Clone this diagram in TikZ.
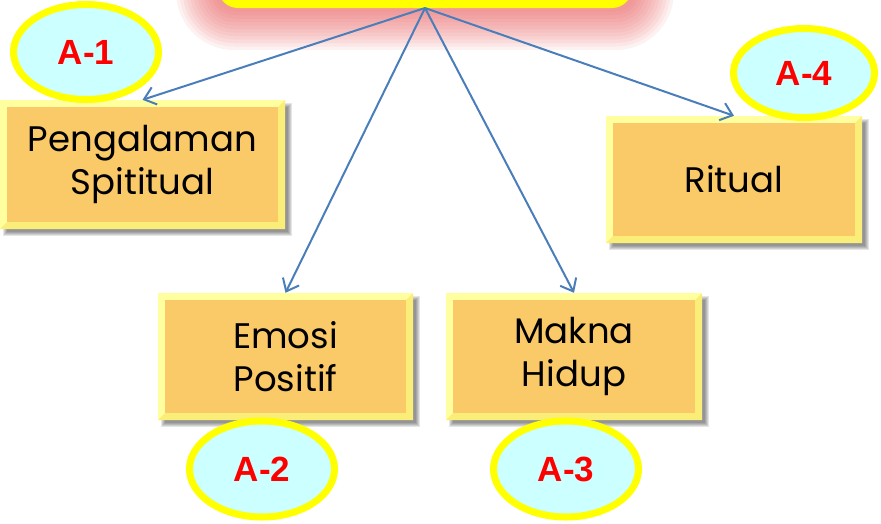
\documentclass[tikz,border=0pt]{standalone}
\usepackage{fontspec}
\newfontfamily\boxfont{Poppins}
\newfontfamily\tagfont{Liberation Sans}
\usetikzlibrary{shapes.geometric,arrows.meta,backgrounds,calc}

\definecolor{bevlight}{RGB}{255,255,160}
\definecolor{bevdark}{RGB}{250,238,120}
\definecolor{boxorange}{RGB}{251,202,104}
\definecolor{tagcyan}{RGB}{204,255,255}
\definecolor{tagring}{RGB}{255,255,0}
\definecolor{tagred}{RGB}{255,0,0}
\definecolor{linkblue}{RGB}{74,126,187}
\definecolor{glowred}{RGB}{232,90,90}

\tikzset{
  headbox/.style={rectangle, rounded corners=16pt, draw=tagring, line width=8pt,
    fill=tagcyan, minimum width=406pt, minimum height=94pt, inner sep=0pt},
  bevelbox/.style={rectangle, fill=bevlight, inner sep=0pt, align=center,
    font=\boxfont\fontsize{35.5}{43}\selectfont,
    path picture={
      \fill[bevdark] (path picture bounding box.south west)
        -- (path picture bounding box.south east)
        -- (path picture bounding box.north east)
        -- ([shift={(-7pt,-7pt)}]path picture bounding box.north east)
        -- ([shift={(-7pt,7pt)}]path picture bounding box.south east)
        -- ([shift={(7pt,7pt)}]path picture bounding box.south west) -- cycle;
      \fill[boxorange] ([shift={(7pt,7pt)}]path picture bounding box.south west)
        rectangle ([shift={(-7pt,-7pt)}]path picture bounding box.north east);
    }},
  tag/.style={ellipse, draw=tagring, line width=7pt, fill=tagcyan, inner sep=0pt,
    font=\tagfont\bfseries\fontsize{35}{38}\selectfont, text=tagred},
  link/.style={draw=linkblue, line width=2pt,
    -{Straight Barb[length=11pt,width=18pt,line width=2pt]}},
}

\begin{document}
\begin{tikzpicture}[x=1pt,y=-1pt]
\useasboundingbox (0,0) rectangle (881,523);

% header box, mostly above the visible area
\node[headbox] (head) at (425,-43) {};

% the four concept boxes
\node[bevelbox, minimum width=285pt, minimum height=129pt] (b1) at (142.5,164.5)
  {Pengalaman\\Spititual};
\node[bevelbox, minimum width=255pt, minimum height=127pt] (b2) at (285.5,356.5)
  {Emosi\\Positif};
\node[bevelbox, minimum width=256pt, minimum height=127pt] (b3) at (574,356.5)
  {Makna\\Hidup};
\node[bevelbox, minimum width=256pt, minimum height=127pt] (b4) at (734,179.5)
  {Ritual};

% soft glow round the header, soft shadows under the boxes
\begin{pgfonlayer}{background}
  \foreach \i in {1,...,12}{
    \fill[glowred, opacity=0.08, rounded corners={16+3.5*\i}]
      ($(head.south west)+(-3.5*\i,3.5*\i)$) rectangle ($(head.north east)+(3.5*\i,-3.5*\i)$);
  }
  \foreach \n in {b1,b2,b3,b4}{
    \foreach \s in {-2,-1,0,1,2}{
      \fill[black, opacity=0.1]
        ($(\n.north west)+(5-\s,5-\s)$) rectangle ($(\n.south east)+(5+\s,5+\s)$);
    }
  }
\end{pgfonlayer}

% connectors
\draw[link] (head.south) -- (b1.north);
\draw[link] (head.south) -- (b2.north);
\draw[link] (head.south) -- (b3.north);
\draw[link] (head.south) -- (b4.north);

% tags
\node[tag, minimum width=145pt, minimum height=95pt] (t1) at (86,52) {A-1};
\node[tag, minimum width=145pt, minimum height=96pt] (t2) at (262,469) {A-2};
\node[tag, minimum width=145pt, minimum height=96pt] (t3) at (566,469) {A-3};
\node[tag, minimum width=141pt, minimum height=89pt] (t4) at (804,73) {A-4};
\end{tikzpicture}
\end{document}
